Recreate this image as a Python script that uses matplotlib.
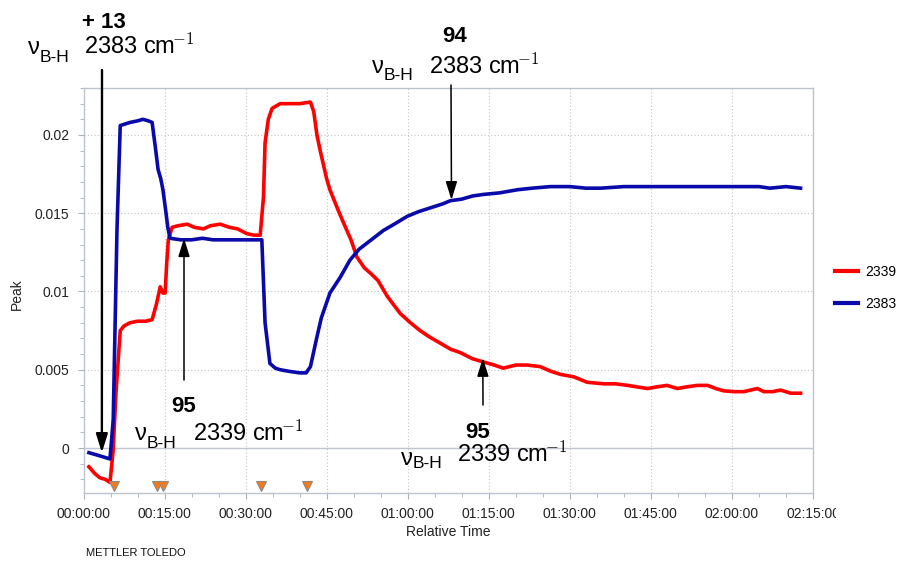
import matplotlib
matplotlib.use("Agg")
import matplotlib.pyplot as plt
from matplotlib.ticker import MultipleLocator, FuncFormatter
from matplotlib.transforms import Bbox, TransformedBbox

# time in minutes
red_t = [1.0, 2.0, 3.0, 4.0, 4.9, 5.5, 6.0, 6.8, 7.5, 8.6, 10.0, 11.5, 12.7, 13.5,
         14.2, 14.7, 15.1, 15.4, 15.7, 16.4, 17.5, 19.2, 20.5, 22.2, 23.5, 25.3, 27.0,
         28.5, 30.2, 31.5, 32.7, 33.3, 33.6, 34.2, 34.9, 36.4, 38.0, 40.0, 42.0, 42.6,
         43.2, 43.8, 45.0, 45.6, 47.0, 48.1, 49.5, 50.6, 52.0, 53.0, 54.5, 56.2, 57.5,
         58.6, 60.5, 62.3, 64.0, 66.0, 68.0, 69.7, 72.0, 74.0, 76.0, 77.7, 80.0, 82.1,
         84.5, 86.5, 88.3, 90.7, 93.2, 96.3, 98.5, 100.7, 102.5, 104.4, 106.0, 108.0,
         109.9, 111.5, 113.6, 115.5, 117.0, 118.5, 120.5, 122.2, 124.7, 125.9, 127.5,
         129.0, 130.9, 132.7]
red_v = [-0.0012, -0.0016, -0.0019, -0.0020, -0.0022, -0.0001, 0.0035, 0.0075, 0.0078,
         0.0080, 0.0081, 0.0081, 0.0082, 0.0092, 0.0103, 0.0099, 0.0099, 0.0118, 0.0133,
         0.0141, 0.0142, 0.0143, 0.0141, 0.0140, 0.0142, 0.0143, 0.0141, 0.0140, 0.0137,
         0.0136, 0.0136, 0.0160, 0.0195, 0.0210, 0.0217, 0.0220, 0.0220, 0.0220, 0.0221,
         0.0215, 0.0200, 0.0190, 0.0172, 0.0165, 0.0153, 0.0144, 0.0133, 0.0122, 0.0115,
         0.0112, 0.0107, 0.0097, 0.0091, 0.0086, 0.0080, 0.0075, 0.0071, 0.0067, 0.0063,
         0.0061, 0.0057, 0.0055, 0.0053, 0.0051, 0.0053, 0.0053, 0.0052, 0.0049, 0.0047,
         0.00455, 0.0042, 0.0041, 0.0041, 0.0040, 0.0039, 0.0038, 0.0039, 0.0040, 0.0038,
         0.0039, 0.0040, 0.0040, 0.0038, 0.00365, 0.0036, 0.0036, 0.0038, 0.0036, 0.0036,
         0.0037, 0.0035, 0.0035]

blue_t = [1.0, 3.0, 4.9, 5.5, 6.2, 6.8, 8.6, 10.0, 11.0, 12.0, 12.7, 13.3, 13.8, 14.3,
          14.7, 15.2, 15.6, 16.0, 18.0, 20.0, 22.0, 24.0, 26.0, 28.0, 30.0, 32.0, 33.0,
          33.6, 34.5, 35.5, 36.4, 38.0, 40.0, 41.2, 42.0, 43.2, 44.0, 45.0, 45.6, 47.5,
          49.3, 51.0, 52.5, 54.0, 55.5, 57.5, 59.9, 62.0, 64.7, 66.5, 67.9, 70.0, 72.0,
          74.0, 77.0, 80.3, 83.0, 86.4, 90.0, 93.0, 95.7, 100.0, 105.0, 110.0, 115.0,
          120.0, 125.0, 127.0, 130.0, 132.7]
blue_v = [-0.0003, -0.0005, -0.0007, 0.0018, 0.0140, 0.0206, 0.0208, 0.0209, 0.0210,
          0.0209, 0.0208, 0.0192, 0.0178, 0.0172, 0.0165, 0.0152, 0.0141, 0.0134, 0.0133,
          0.0133, 0.0134, 0.0133, 0.0133, 0.0133, 0.0133, 0.0133, 0.0133, 0.0080, 0.0054,
          0.0051, 0.0050, 0.0049, 0.0048, 0.0048, 0.0052, 0.0071, 0.0083, 0.0093, 0.0099,
          0.0109, 0.0120, 0.0127, 0.0131, 0.0135, 0.0139, 0.0143, 0.0148, 0.0151, 0.0154,
          0.0156, 0.0158, 0.0159, 0.0161, 0.0162, 0.0163, 0.0165, 0.0166, 0.0167, 0.0167,
          0.0166, 0.0166, 0.0167, 0.0167, 0.0167, 0.0167, 0.0167, 0.0167, 0.0166, 0.0167,
          0.0166]

event_t = [5.7, 13.6, 14.8, 32.9, 41.4]
series_labels = ["2339", "2383"]

W, H = 897, 561


def fpx(x, y):
    # figure pixel (from top-left) -> figure fraction
    return x / W, 1 - y / H


def hms(m, pos=None):
    s = int(round(m * 60))
    return "%02d:%02d:%02d" % (s // 3600, (s % 3600) // 60, s % 60)


plt.rcParams["font.family"] = ["Liberation Sans", "DejaVu Sans"]
plt.rcParams["mathtext.fontset"] = "cm"

fig = plt.figure(figsize=(W / 100, H / 100), dpi=100)
ax = fig.add_axes([83.5 / W, 1 - 493 / H, (813 - 83.5) / W, (493 - 88) / H])

ax.plot(red_t, red_v, color="#ff0000", lw=2.6, label=series_labels[0], solid_joinstyle="round")
ax.plot(blue_t, blue_v, color="#0a0aaa", lw=2.6, label=series_labels[1], solid_joinstyle="round")
ax.plot(event_t, [0.018] * len(event_t), "v", color="#f47a1c", mec="#8a8a8a", mew=0.8,
        ms=7.5, transform=ax.get_xaxis_transform(), clip_on=False, zorder=5)

ax.set_xlim(0, 135)
ax.set_ylim(-0.002875, 0.0230)
ax.xaxis.set_major_locator(MultipleLocator(15))
ax.xaxis.set_minor_locator(MultipleLocator(5))
ax.xaxis.set_major_formatter(FuncFormatter(hms))
ax.yaxis.set_major_locator(MultipleLocator(0.005))
ax.yaxis.set_minor_locator(MultipleLocator(0.001))
ax.yaxis.set_major_formatter(FuncFormatter(lambda v, p: "%g" % round(v, 4)))

ax.grid(True, which="major", color="#c4c4c4", lw=0.8, ls=(0, (1, 2)))
ax.axhline(0, color="#c0c6d2", lw=1.0, zorder=1)
for s in ax.spines.values():
    s.set_color("#bcc3cf")
    s.set_linewidth(1.0)
ax.tick_params(which="both", direction="out", color="#a8b0bc", labelcolor="#222222",
               labelsize=10)
ax.tick_params(which="major", length=4, pad=6)
ax.tick_params(which="minor", length=3)

ax.set_xlabel("Relative Time", fontsize=10, color="#222222")
ax.xaxis.set_label_coords(0.5, -(525 - 493) / 405)
ax.set_ylabel("Peak", fontsize=10, color="#222222")
ax.yaxis.set_label_coords((24 - 83.5) / 729.5, 0.49)

leg = fig.legend(loc="upper left", bbox_to_anchor=fpx(835, 265), frameon=False,
                 fontsize=10, handlelength=1.65, handletextpad=0.55, labelspacing=1.3,
                 borderpad=0, borderaxespad=0)
for h in leg.get_lines():
    h.set_linewidth(3)

fig.text(*fpx(86, 553), "METTLER TOLEDO", fontsize=8, color="#111111", va="center")

# annotations: bold number, nu, B-H subscript, wavenumber
big = 17
sub = 12.5
num = 16


def label(num_txt, num_xy, nu_xy, bh_xy, wn_txt, wn_xy):
    fig.text(*fpx(*num_xy), num_txt, fontsize=num, fontweight="bold", ha="center", va="center")
    fig.text(*fpx(*nu_xy), "ν", fontsize=big, ha="left", va="center")
    fig.text(*fpx(*bh_xy), "B-H", fontsize=sub, ha="left", va="center")
    fig.text(*fpx(*wn_xy), wn_txt, fontsize=big, ha="left", va="center")


wn_2383 = r"2383 $\mathregular{cm}\!{}^{-1}$"
wn_2339 = r"2339 $\mathregular{cm}\!{}^{-1}$"
label("+ 13", (104, 23), (28, 48), (40, 57), wn_2383, (84, 46))
label("95", (184, 406), (135, 434), (147, 443), wn_2339, (193, 433))
label("94", (455, 36), (372, 67), (384, 75), wn_2383, (429, 66))
label("95", (478, 432), (401, 459), (413, 464), wn_2339, (457, 454))

arrows = [((3.4, -0.0003), (102, 70), 1.7),
          ((18.6, 0.0134), (184, 380), 1.1),
          ((68.1, 0.01585), (451, 85), 1.1),
          ((73.9, 0.00575), (483, 405), 1.1)]
for tip, tail, lw in arrows:
    ax.annotate("", xy=tip, xycoords="data", xytext=(tail[0], H - tail[1]),
                textcoords="figure pixels", annotation_clip=False,
                arrowprops=dict(arrowstyle="-|>,head_length=0.8,head_width=0.25",
                                mutation_scale=14, lw=lw, color="black",
                                shrinkA=0, shrinkB=0))

# the last time label is cut off at the chart edge in the original
fig.canvas.draw()
clip = TransformedBbox(Bbox.from_extents(0, 0, 836 / W, 1), fig.transFigure)
for t in ax.xaxis.get_major_ticks():
    t.label1.set_clip_box(clip)
    t.label1.set_clip_on(True)

fig.savefig("out.png", dpi=100)
